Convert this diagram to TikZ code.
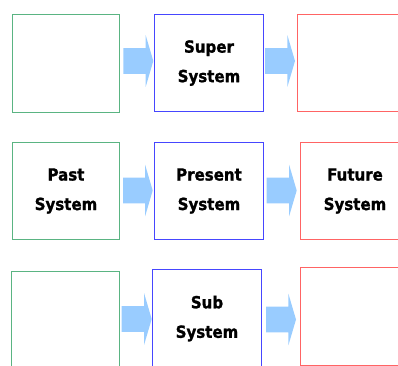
\documentclass[tikz,border=0pt]{standalone}
\usepackage{fontspec}
\newfontfamily\boxfont{DejaVu Sans}[FakeStretch=0.9, BoldFeatures={FakeBold=1.2}]
\usetikzlibrary{calc}
\definecolor{pastgreen}{RGB}{90,180,130}
\definecolor{nowblue}{RGB}{70,70,255}
\definecolor{futred}{RGB}{255,100,100}
\definecolor{arrowblue}{RGB}{153,204,255}
\tikzset{
  sysbox/.style={draw, line width=1.3pt, minimum width=109pt, minimum height=97pt,
    inner sep=0pt, outer sep=0pt, align=center,
    font=\boxfont\bfseries\fontsize{16.7}{29.5}\selectfont},
  pastbox/.style={sysbox, draw=pastgreen},
  nowbox/.style={sysbox, draw=nowblue},
  % the future boxes run off the right edge, so only three sides are drawn
  futbox/.style={sysbox, draw=none},
  futline/.style={draw=futred, line width=1.3pt},
  blockarrow/.style={fill=arrowblue, draw=none, to path={
    let \p1=(\tikztostart), \p2=(\tikztotarget) in
    (\x1,\y1+12.8pt) -- (\x2-7.6pt,\y1+12.8pt) -- (\x2-7.6pt,\y1+25.8pt)
    -- (\x2,\y1) -- (\x2-7.6pt,\y1-25.8pt) -- (\x2-7.6pt,\y1-12.8pt)
    -- (\x1,\y1-12.8pt) -- cycle}}
}
\begin{document}
\begin{tikzpicture}[x=1pt,y=-1pt]
\useasboundingbox (0,0) rectangle (398,365);
% top row
\node[pastbox, minimum width=107pt, minimum height=98pt] (g1) at (66,63.5) {};
\node[nowbox] (b1) at (209,63) {Super\\System};
\node[futbox] (r1) at (352,63) {};
% middle row
\node[pastbox, minimum width=107pt] (g2) at (66,191) {Past\\System};
\node[nowbox] (b2) at (209,191) {Present\\System};
\node[futbox] (r2) at (355,191) {Future\\System};
% bottom row
\node[pastbox, minimum width=108pt, minimum height=98pt] (g3) at (65.5,320.5) {};
\node[nowbox, minimum height=98pt] (b3) at (207,318.5) {Sub\\System};
\node[futbox, minimum height=98pt] (r3) at (355,316.5) {};
% open outlines of the future boxes
\foreach \r in {r1,r2,r3}
  \draw[futline] ([xshift=40pt]\r.north east) -- (\r.north west)
    -- (\r.south west) -- ([xshift=40pt]\r.south east);
% block arrows
\draw[blockarrow] ([shift={(3.8,-2.5)}]g1.east) to ([shift={(-1.2,-2.5)}]b1.west);
\draw[blockarrow] ([shift={(1.5,-2)}]b1.east) to ([shift={(-2.5,-2)}]r1.west);
\draw[blockarrow] ([shift={(3.5,-0.5)}]g2.east) to ([shift={(-1.8,-0.5)}]b2.west);
\draw[blockarrow] ([shift={(3.2,-0.5)}]b2.east) to ([shift={(-3.8,-0.5)}]r2.west);
\draw[blockarrow] ([shift={(2.2,-1.5)}]g3.east) to ([shift={(-0.8,-1.5)}]b3.west);
\draw[blockarrow] ([shift={(4.5,1)}]b3.east) to ([shift={(-4.5,1)}]r3.west);
\end{tikzpicture}
\end{document}
